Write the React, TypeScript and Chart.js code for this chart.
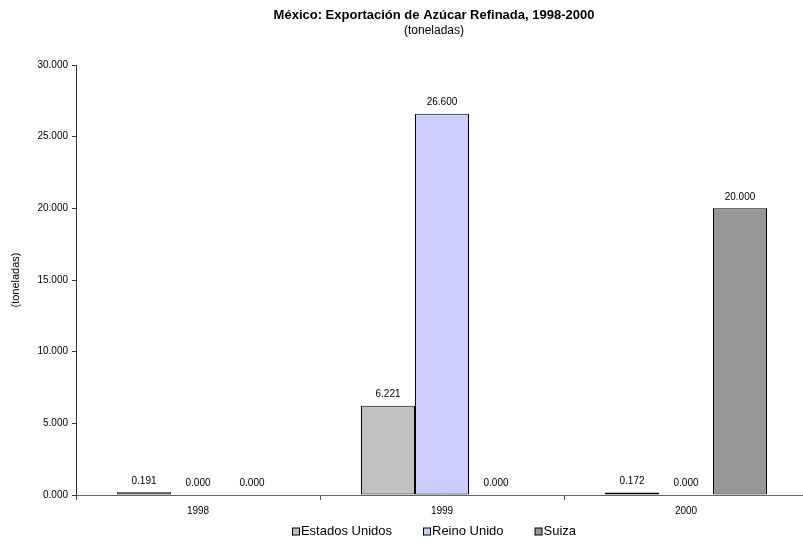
import React, { useEffect, useRef } from "react";
import { Chart, registerables } from "chart.js";

Chart.register(...registerables);

const years = ["1998", "1999", "2000"];
const seriesNames = ["Estados Unidos", "Reino Unido", "Suiza"];
const estadosUnidos = [0.191, 6.221, 0.172];
const reinoUnido = [0, 26.6, 0];
const suiza = [0, 0, 20];
const seriesColors = ["#C0C0C0", "#CCCCFF", "#969696"];
const yTicksMax = 30;
const yTicksStep = 5;
const titleText = "México: Exportación de Azúcar Refinada, 1998-2000";
const subtitleText = "(toneladas)";
const yTitleText = "(toneladas)";

const FONT = "'Liberation Sans', Arial, sans-serif";

const decorPlugin = {
  id: "decor",
  afterDatasetsDraw(chart: any) {
    const ctx = chart.ctx;
    ctx.save();
    // data labels
    ctx.fillStyle = "#000";
    ctx.font = `10px ${FONT}`;
    ctx.textAlign = "center";
    ctx.textBaseline = "middle";
    chart.data.datasets.forEach((ds: any, i: number) => {
      const meta = chart.getDatasetMeta(i);
      meta.data.forEach((el: any, j: number) => {
        const v = ds.data[j] as number;
        ctx.fillText(v.toFixed(3), el.x, el.y - 11.5);
      });
    });
    ctx.restore();
  },
  afterDraw(chart: any) {
    const ctx = chart.ctx;
    const cx = chart.width / 2;
    ctx.save();
    ctx.fillStyle = "#000";
    ctx.textAlign = "center";
    ctx.textBaseline = "middle";
    ctx.font = `bold 13px ${FONT}`;
    ctx.fillText(titleText, cx, 15);
    ctx.font = `12px ${FONT}`;
    ctx.fillText(subtitleText, cx, 31);

    // y axis title
    ctx.save();
    ctx.translate(16, (chart.chartArea.top + chart.chartArea.bottom) / 2);
    ctx.rotate(-Math.PI / 2);
    ctx.font = `11px ${FONT}`;
    ctx.fillText(yTitleText, 0, 0);
    ctx.restore();

    // legend
    ctx.font = `13px ${FONT}`;
    const box = 7;
    const boxGap = 2;
    const itemGap = 31;
    const widths = seriesNames.map((n) => ctx.measureText(n).width);
    const total =
      widths.reduce((a, b) => a + b, 0) +
      seriesNames.length * (box + boxGap) +
      (seriesNames.length - 1) * itemGap;
    let x = cx - total / 2;
    const ly = 531;
    ctx.textAlign = "left";
    seriesNames.forEach((n, i) => {
      ctx.fillStyle = seriesColors[i];
      ctx.fillRect(x + 0.5, ly - box / 2 + 0.5, box, box);
      ctx.strokeStyle = "#000";
      ctx.lineWidth = 1;
      ctx.strokeRect(x + 0.5, ly - box / 2 + 0.5, box, box);
      ctx.fillStyle = "#000";
      ctx.fillText(n, x + box + boxGap, ly + 0.5);
      x += box + boxGap + widths[i] + itemGap;
    });
    ctx.restore();
  },
};

export default function App() {
  const ref = useRef<HTMLCanvasElement | null>(null);
  useEffect(() => {
    if (!ref.current) return;
    Chart.defaults.font.family = FONT;
    const chart = new Chart(ref.current, {
      type: "bar",
      data: {
        labels: years,
        datasets: [
          { label: seriesNames[0], data: estadosUnidos, backgroundColor: seriesColors[0] },
          { label: seriesNames[1], data: reinoUnido, backgroundColor: seriesColors[1] },
          { label: seriesNames[2], data: suiza, backgroundColor: seriesColors[2] },
        ].map((d) => ({
          ...d,
          borderColor: "#000",
          borderWidth: 1,
          borderSkipped: false,
          categoryPercentage: 0.664,
          barPercentage: 1,
        })),
      },
      options: {
        animation: false,
        responsive: false,
        devicePixelRatio: 1,
        layout: { padding: { top: 65, right: 60, bottom: 0, left: 0 } },
        plugins: {
          legend: { display: false },
          title: { display: false },
          tooltip: { enabled: false },
        },
        scales: {
          x: {
            afterFit: (s: any) => {
              s.height = 47;
            },
            grid: {
              drawOnChartArea: false,
              drawTicks: true,
              tickLength: 5,
              color: "#555",
              offset: true,
            },
            border: { color: "#666", width: 1 },
            ticks: {
              color: "#000",
              font: { size: 10, family: FONT },
              padding: 5,
            },
          },
          y: {
            min: 0,
            max: yTicksMax,
            afterFit: (s: any) => {
              s.width = 76;
            },
            grid: {
              drawOnChartArea: false,
              drawTicks: true,
              tickLength: 4,
              color: "#333",
            },
            border: { color: "#333", width: 1 },
            ticks: {
              stepSize: yTicksStep,
              color: "#000",
              font: { size: 10, family: FONT },
              padding: 4,
              callback: (v: any) => Number(v).toFixed(3),
            },
          },
        },
      },
      plugins: [decorPlugin],
    });
    return () => chart.destroy();
  }, []);

  return (
    <div
      style={{
        position: "fixed",
        left: 0,
        top: 0,
        width: 803,
        height: 542,
        overflow: "hidden",
        background: "#fff",
      }}
    >
      <canvas
        ref={ref}
        width={868}
        height={542}
        style={{ display: "block", width: 868, height: 542 }}
      />
    </div>
  );
}
